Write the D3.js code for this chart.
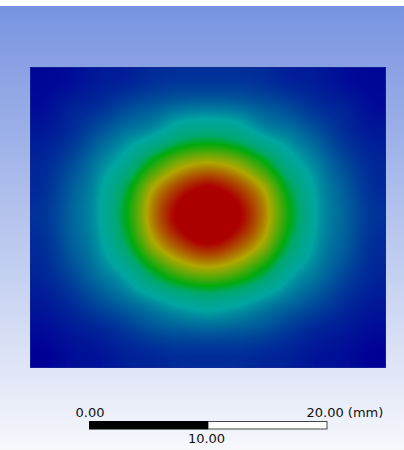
<!DOCTYPE html>
<html>
<head>
<meta charset="utf-8">
<script src="https://cdn.jsdelivr.net/npm/d3@7"></script>
<style>
html,body{margin:0;padding:0;background:#fff;overflow:hidden}
svg{display:block}
</style>
</head>
<body>
<script>
// field samples, 13 columns x 11 rows
// (0 = lowest / deep blue, 1 = red, values above 1 stay red)
const fieldRows = [
  [0.01,0.02,0.04,0.05,0.07,0.08,0.08,0.08,0.07,0.05,0.04,0.02,0.01],
  [0.02,0.05,0.07,0.11,0.14,0.17,0.18,0.17,0.14,0.11,0.07,0.05,0.02],
  [0.04,0.07,0.13,0.19,0.25,0.36,0.40,0.36,0.25,0.19,0.13,0.07,0.04],
  [0.06,0.11,0.19,0.30,0.52,0.69,0.75,0.69,0.52,0.30,0.19,0.11,0.06],
  [0.07,0.14,0.23,0.45,0.76,0.94,1.03,0.94,0.76,0.45,0.23,0.14,0.07],
  [0.08,0.15,0.24,0.49,0.82,1.04,1.18,1.04,0.82,0.50,0.24,0.15,0.08],
  [0.07,0.14,0.22,0.42,0.72,0.90,0.99,0.90,0.72,0.42,0.22,0.14,0.07],
  [0.06,0.11,0.18,0.27,0.47,0.63,0.69,0.63,0.47,0.27,0.18,0.11,0.06],
  [0.04,0.07,0.12,0.17,0.23,0.30,0.34,0.30,0.23,0.17,0.12,0.07,0.04],
  [0.02,0.04,0.06,0.09,0.13,0.15,0.16,0.15,0.13,0.09,0.06,0.04,0.02],
  [0.00,0.02,0.03,0.05,0.06,0.07,0.07,0.07,0.06,0.05,0.03,0.02,0.00]
];
const levelStops = [0, 0.25, 0.4, 0.5, 0.75, 1];
const scaleTicks = [0, 10, 20];
const scaleLabels = ['0.00', '10.00', '20.00 (mm)'];

const W = 404, H = 450;
var svg = d3.select('body').append('svg').attr('width', W).attr('height', H);

// background gradient like the viewer
var grad = svg.append('defs').append('linearGradient').attr('id', 'bg')
  .attr('x1', 0).attr('y1', 0).attr('x2', 0).attr('y2', 1);
grad.append('stop').attr('offset', 0).attr('stop-color', 'rgb(120,148,224)');
grad.append('stop').attr('offset', 1).attr('stop-color', 'rgb(247,248,252)');
svg.append('rect').attr('x', 0).attr('y', 6).attr('width', W).attr('height', H - 6)
  .attr('fill', 'url(#bg)');

// plot box
let x0 = 30, x1 = 386, y0 = 67, y1 = 368;
let nx = fieldRows[0].length, ny = fieldRows.length;
var x = d3.scaleLinear().domain([0, nx]).range([x0, x1]);
var y = d3.scaleLinear().domain([0, ny]).range([y0, y1]);

var color = d3.scaleLinear().domain(levelStops)
  .range(['rgb(0,0,150)', 'rgb(0,165,160)', 'rgb(0,168,112)', 'rgb(0,170,16)', 'rgb(175,168,0)', 'rgb(172,0,0)'])
  .clamp(true);
let lut = d3.range(1025).map(k => d3.rgb(color(k / 1024)));

// smooth (catmull-rom) read of the sample grid at a fractional position
function cr(p0, p1, p2, p3, t) {
  return p1 + 0.5 * t * (p2 - p0 + t * (2*p0 - 5*p1 + 4*p2 - p3 + t * (3*(p1 - p2) + p3 - p0)));
}
function val(i, j) {
  i = Math.max(0, Math.min(nx - 1, i));
  j = Math.max(0, Math.min(ny - 1, j));
  return fieldRows[j][i];
}
function sample(u, v) {
  let i = Math.floor(u), j = Math.floor(v);
  let tu = u - i, tv = v - j;
  let r = [];
  for (let m = -1; m <= 2; m++) {
    r.push(cr(val(i-1, j+m), val(i, j+m), val(i+1, j+m), val(i+2, j+m), tu));
  }
  return cr(r[0], r[1], r[2], r[3], tv);
}

let bw = Math.round(x(nx) - x(0)), bh = Math.round(y(ny) - y(0));
var cnv = document.createElement('canvas');
cnv.width = bw; cnv.height = bh;
var ctx = cnv.getContext('2d');
var px = ctx.createImageData(bw, bh);
for (let py = 0; py < bh; py++) {
  let v = (py + 0.5) / bh * ny - 0.5;
  for (let qx = 0; qx < bw; qx++) {
    let u = (qx + 0.5) / bw * nx - 0.5;
    let s = Math.max(0, Math.min(1, sample(u, v)));
    let c = lut[Math.round(s * 1024)];
    let k = (py * bw + qx) * 4;
    px.data[k] = c.r; px.data[k+1] = c.g; px.data[k+2] = c.b; px.data[k+3] = 255;
  }
}
ctx.putImageData(px, 0, 0);

svg.append('image')
  .attr('x', x(0)).attr('y', y(0))
  .attr('width', bw).attr('height', bh)
  .attr('preserveAspectRatio', 'none')
  .attr('href', cnv.toDataURL());
svg.append('rect')
  .attr('x', x(0) + 0.5).attr('y', y(0) + 0.5)
  .attr('width', bw - 1).attr('height', bh - 1)
  .attr('fill', 'none').style('stroke', 'rgba(20,40,150,0.7)').style('stroke-width', 1);

// scale bar
var sx = d3.scaleLinear().domain([scaleTicks[0], scaleTicks[2]]).range([89, 327]);
var bar = svg.append('g');
bar.append('rect').attr('x', sx(scaleTicks[1])).attr('y', 421.5)
  .attr('width', sx(scaleTicks[2]) - sx(scaleTicks[1])).attr('height', 7.5)
  .attr('fill', '#fff').style('stroke', '#444').style('stroke-width', 1);
bar.append('rect').attr('x', sx(scaleTicks[0])).attr('y', 421)
  .attr('width', sx(scaleTicks[1]) - sx(scaleTicks[0])).attr('height', 8.5)
  .attr('fill', '#000');

bar.selectAll('text').data(scaleTicks).join('text')
  .attr('x', (d, i) => i == 0 ? sx(d) - 13.5 : i == 1 ? sx(d) - 1.5 : sx(d) - 20.5)
  .attr('y', (d, i) => i == 1 ? 443 : 417)
  .attr('text-anchor', (d, i) => i == 1 ? 'middle' : 'start')
  .style('font-family', 'DejaVu Sans, sans-serif')
  .style('font-size', '13px')
  .attr('fill', '#111')
  .text((d, i) => scaleLabels[i]);
</script>
</body>
</html>
